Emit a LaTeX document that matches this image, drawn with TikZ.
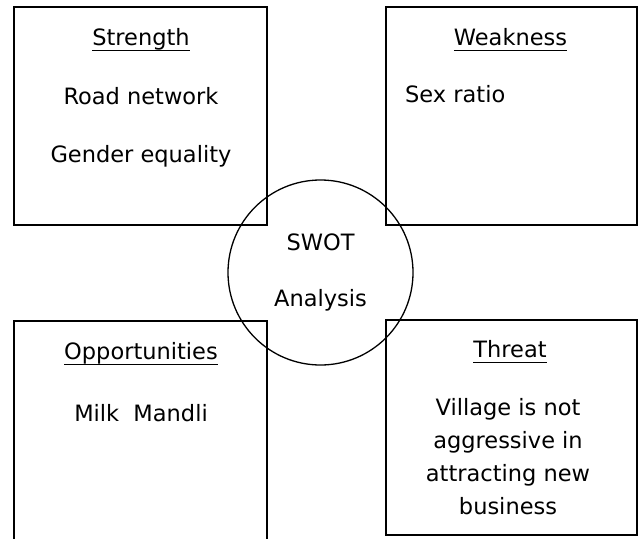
\documentclass[tikz,border=0pt]{standalone}
\usepackage{fontspec}
\setmainfont{DejaVu Sans}
\newsavebox\headbox
\newcommand\headtext[1]{\sbox\headbox{#1}\rlap{\rule[-6.2pt]{\wd\headbox}{1.2pt}}\usebox\headbox}
\tikzset{
  quad/.style={draw,line width=1.1pt,inner sep=0pt},
  hub/.style={draw,circle,line width=1.3pt,minimum size=185pt,inner sep=0pt,
    align=center,font=\fontsize{22.5}{56}\selectfont},
  txt/.style={anchor=base,inner sep=0pt,align=center,
    font=\fontsize{22.5}{33}\selectfont}
}

\begin{document}
\begin{tikzpicture}[x=1pt,y=-1pt]
\clip (0,0) rectangle (642,538);
% the four boxes
\node[quad,minimum width=253pt,minimum height=218pt] (S) at (140.5,116) {};
\node[quad,minimum width=251pt,minimum height=218pt] (W) at (511.5,116) {};
\node[quad,minimum width=253pt,minimum height=224pt] (O) at (140.5,433) {};
\node[quad,minimum width=251pt,minimum height=215pt] (T) at (511.5,427.5) {};
% centre
\node[hub] (swot) at (320.5,272.5) {SWOT\\Analysis};
% strength
\node[txt] (Shead) at (141,45) {\headtext{Strength}};
\node[txt] (S1) at (141,104) {Road network};
\node[txt] (S2) at (141,162) {Gender equality};
% weakness
\node[txt] (Whead) at (510.5,45) {\headtext{Weakness}};
\node[txt,anchor=base west] (W1) at (405,102) {Sex ratio};
% opportunities
\node[txt] (Ohead) at (141,359) {\headtext{Opportunities}};
\node[txt] (O1) at (141,421) {Milk~~Mandli};
% threat (base = last line)
\node[txt] (Thead) at (510,357) {\headtext{Threat}};
\node[txt] (T1) at (508,514) {Village is not\\aggressive in\\attracting new\\business};
\end{tikzpicture}
\end{document}
